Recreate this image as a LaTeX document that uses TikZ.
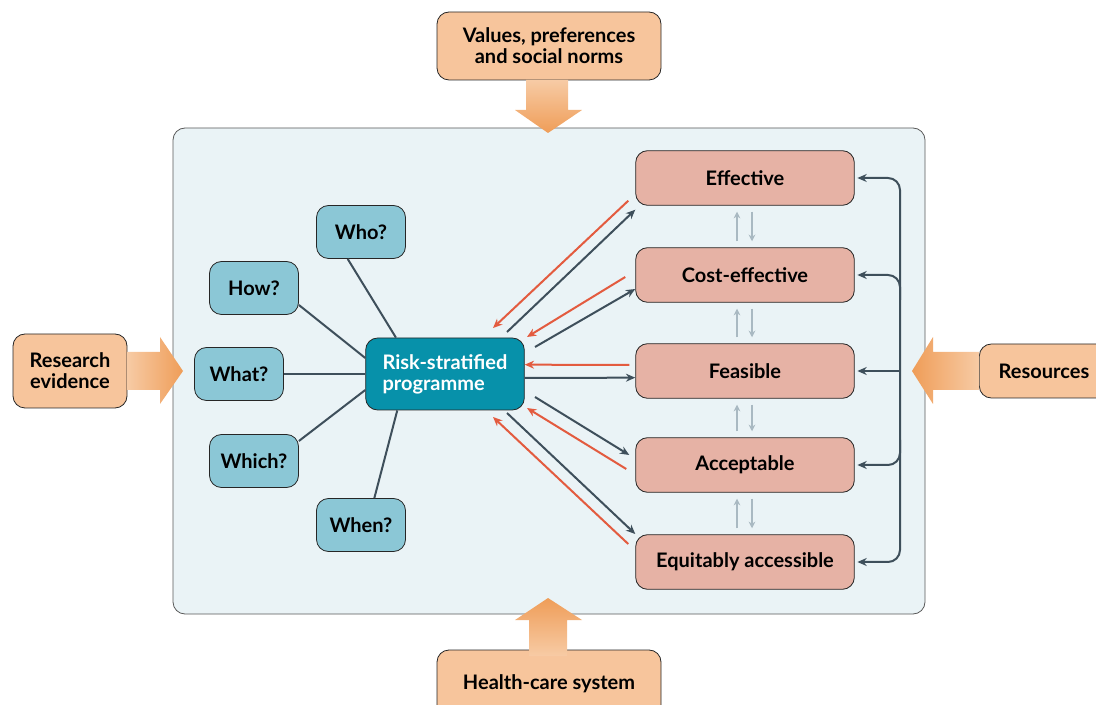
\documentclass[tikz,border=0pt]{standalone}
\usepackage{fontspec}
\setmainfont{Lato}
\usetikzlibrary{arrows.meta}
\definecolor{panel}{HTML}{EAF3F6}
\definecolor{peach}{HTML}{F7C59C}
\definecolor{peachdark}{HTML}{EF9D58}
\definecolor{peachlight}{HTML}{F7CBA5}
\definecolor{qblue}{HTML}{8BC7D6}
\definecolor{teal}{HTML}{0791AA}
\definecolor{rose}{HTML}{E6B2A5}
\definecolor{slate}{HTML}{3E4F5B}
\definecolor{tomato}{HTML}{E35B3F}
\definecolor{mist}{HTML}{A9B9C2}
\begin{document}
\begin{tikzpicture}[x=0.75pt, y=-0.75pt, font=\bfseries\fontsize{15}{15.75}\selectfont,
 every node/.style={draw=black!85, line width=0.6pt, rounded corners=9pt, align=center, inner sep=2pt},
 factor/.style={fill=peach, minimum width=168pt, minimum height=51pt},
 question/.style={fill=qblue, minimum width=66.75pt, minimum height=39.75pt},
 quality/.style={fill=rose, minimum width=164pt, minimum height=41pt},
 spoke/.style={draw=slate, line width=1.5pt},
 forward/.style={draw=slate, line width=1.5pt, -{Stealth[length=7pt,width=6pt]}},
 back/.style={draw=tomato, line width=1.5pt, -{Stealth[length=7pt,width=6pt]}},
 link/.style={draw=mist, line width=1.5pt, -{Stealth[length=5pt,width=5pt]}}]

\useasboundingbox (0,0) rectangle (1096,705);
\fill[panel, draw=black!65, line width=0.6pt, rounded corners=9pt] (173,128) rectangle (925,614);

\node[factor] (values) at (549,46) {Values, preferences\\and social norms};
\node[factor] (health) at (549,684) {Health-care system};
\node[fill=peach, minimum width=85.5pt, minimum height=55.5pt] (research) at (70,371) {Research\\evidence};
\node[fill=peach, minimum width=97pt, minimum height=40.5pt] (resources) at (1044,371) {Resources};

\shade[top color=peachlight, bottom color=peachdark] (526,80) -- (568,80) -- (568,110) -- (582,110) -- (548,133) -- (515,110) -- (526,110) -- cycle;
\shade[top color=peachdark, bottom color=peachlight] (529,656) -- (567,656) -- (567,620) -- (582,620) -- (548,598) -- (515,620) -- (529,620) -- cycle;
\shade[left color=peachlight, right color=peachdark] (127,352) -- (160,352) -- (160,337) -- (183,371) -- (160,404) -- (160,390) -- (127,390) -- cycle;
\shade[left color=peachdark, right color=peachlight] (979,352) -- (933,352) -- (933,337) -- (912,371) -- (933,404) -- (933,390) -- (979,390) -- cycle;

\node[fill=teal, text=white, align=left, minimum width=119pt, minimum height=54pt] (risk) at (445,374) {Risk-stratified\\programme};

\node[question] (who) at (361,232) {Who?};
\node[question] (how) at (254,288) {How?};
\node[question] (what) at (239,374) {What?};
\node[question] (which) at (254,461) {Which?};
\node[question] (when) at (361,525) {When?};

\draw[spoke] ([xshift=23pt]risk.north west) -- ([xshift=-10pt]who.south);
\draw[spoke] ([yshift=12pt]risk.west) -- ([yshift=-12.75pt]how.east);
\draw[spoke] (risk.west) -- (what.east);
\draw[spoke] ([yshift=-12pt]risk.west) -- ([yshift=15pt]which.east);
\draw[spoke] ([xshift=24pt]risk.south west) -- ([xshift=10pt]when.north);

\node[quality] (effective) at (745,178) {Effective};
\node[quality] (cost) at (745,275) {Cost-effective};
\node[quality] (feasible) at (745,371) {Feasible};
\node[quality] (acceptable) at (745,465) {Acceptable};
\node[quality] (equitable) at (745,562) {Equitably accessible};

\draw[forward] (507,332) -- ([yshift=-3pt]effective.south west);
\draw[back] ([xshift=-5.25pt,yshift=3.75pt]effective.south west) -- (493,328);
\draw[forward] (535,347) -- ([yshift=-10.5pt]cost.west);
\draw[back] ([xshift=-7.5pt,yshift=-1.5pt]cost.west) -- (527,337);
\draw[back] ([xshift=-4.5pt,yshift=4.5pt]feasible.west) -- ([yshift=7pt]risk.east);
\draw[forward] ([yshift=-3pt]risk.east) -- ([yshift=-5pt]feasible.west);
\draw[forward] (535,397) -- ([xshift=-4.5pt,yshift=7.5pt]acceptable.west);
\draw[back] ([xshift=-6.75pt,yshift=-3pt]acceptable.west) -- (527,408);
\draw[forward] (507,413) -- ([yshift=21pt]equitable.west);
\draw[back] ([xshift=-5.25pt,yshift=13.5pt]equitable.west) -- (493,417);

\foreach \upper/\lower in {effective/cost, cost/feasible, feasible/acceptable, acceptable/equitable} {
 \draw[link] ([xshift=-6pt,yshift=4.5pt]\lower.north) -- ([xshift=-6pt,yshift=-4.5pt]\upper.south);
 \draw[link] ([xshift=5.25pt,yshift=-4.5pt]\upper.south) -- ([xshift=5.25pt,yshift=4.5pt]\lower.north);
}

\draw[forward, rounded corners=9pt, {Stealth[length=7pt,width=6pt]}-{Stealth[length=7pt,width=6pt]}] ([xshift=2pt]effective.east) -| (900,371) |- ([xshift=2pt]equitable.east);
\draw[forward, rounded corners=9pt] (900,300) |- ([xshift=2pt]cost.east);
\draw[forward] (900,371) -- ([xshift=2pt]feasible.east);
\draw[forward, rounded corners=9pt] (900,440) |- ([xshift=2pt]acceptable.east);
\end{tikzpicture}
\end{document}
